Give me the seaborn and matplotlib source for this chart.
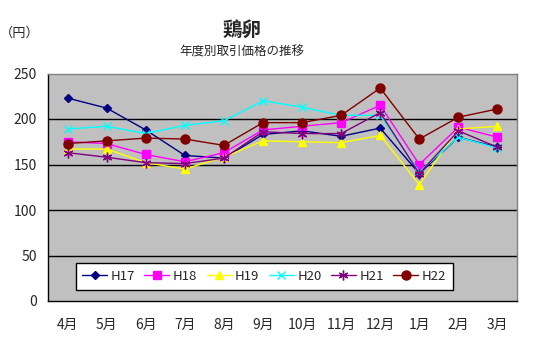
import matplotlib
matplotlib.use("Agg")
import matplotlib.pyplot as plt
import seaborn as sns
import pandas as pd
import numpy as np

months = ["4月", "5月", "6月", "7月", "8月", "9月", "10月", "11月", "12月", "1月", "2月", "3月"]
h17 = [223, 212, 188, 160, 157, 183, 187, 181, 190, 140, 180, 169]
h18 = [175, 173, 161, 153, 163, 188, 192, 196, 215, 150, 191, 180]
h19 = [167, 167, 152, 145, 158, 176, 175, 174, 182, 128, 189, 192]
h20 = [189, 192, 184, 193, 198, 220, 213, 204, 204, 142, 180, 168]
h21 = [163, 158, 152, 151, 157, 186, 184, 184, 207, 140, 187, 169]
h22 = [173, 176, 179, 178, 171, 196, 196, 204, 234, 178, 202, 211]

series = {"H17": h17, "H18": h18, "H19": h19, "H20": h20, "H21": h21, "H22": h22}
colors = {"H17": "#000080", "H18": "#FF00FF", "H19": "#FFFF00",
          "H20": "#00FFFF", "H21": "#800080", "H22": "#800000"}
markers = {"H17": "D", "H18": "s", "H19": "^", "H20": "x", "H21": (6, 2, 0), "H22": "o"}
msizes = {"H17": 4.5, "H18": 6, "H19": 6, "H20": 6, "H21": 7, "H22": 6.5}

rows = []
for name, vals in series.items():
    for i, v in enumerate(vals):
        rows.append({"month": i, "price": v, "year": name})
df = pd.DataFrame(rows)

sns.set_theme(style="white")
plt.rcParams["font.family"] = ["Noto Sans CJK JP", "DejaVu Sans"]

fig = plt.figure(figsize=(5.5, 3.5), dpi=100)
ax = fig.add_axes([48 / 550, 1 - 301 / 350, (517 - 48) / 550, (301 - 73.5) / 350])
ax.set_facecolor("#C0C0C0")

for name in series:
    sub = df[df["year"] == name]
    sns.lineplot(data=sub, x="month", y="price", ax=ax, color=colors[name],
                 marker=markers[name], markersize=msizes[name],
                 markeredgecolor=colors[name], markeredgewidth=1.0,
                 linewidth=1.0, label=name, legend=False)

ax.set_xlim(-0.5, 11.5)
ax.set_ylim(0, 250)
ax.set_yticks(np.arange(0, 251, 50))
for yv in [50, 100, 150, 200]:
    ax.axhline(yv, color="black", linewidth=1, zorder=0.5)

ax.set_xticks(range(12))
ax.set_xticklabels(months, fontsize=10)
ax.set_xticks(np.arange(0.5, 11.5, 1), minor=True)
ax.tick_params(axis="x", which="major", length=0, pad=12)
ax.tick_params(axis="x", which="minor", direction="in", length=4, color="black", width=1)
ax.tick_params(axis="y", length=0, labelsize=10, pad=8)
ax.set_xlabel("")
ax.set_ylabel("")

for side in ["left", "bottom"]:
    ax.spines[side].set_color("black")
    ax.spines[side].set_linewidth(1)
for side in ["top", "right"]:
    ax.spines[side].set_color("#808080")
    ax.spines[side].set_linewidth(1)

handles, labels = ax.get_legend_handles_labels()
leg = ax.legend(handles, labels, ncol=6, loc="center",
                bbox_to_anchor=(0.4606, 0.108),
                frameon=True, fancybox=False, fontsize=9.5,
                handlelength=1.9, handletextpad=0.25, columnspacing=0.72,
                borderpad=0.5, borderaxespad=0)
leg.get_frame().set_edgecolor("black")
leg.get_frame().set_facecolor("white")
leg.get_frame().set_linewidth(1)
leg.get_frame().set_alpha(1)

fig.text(242 / 550, 1 - 30 / 350, "鶏卵", ha="center", va="center",
         fontsize=14, fontweight="bold")
fig.text(242 / 550, 1 - 52 / 350, "年度別取引価格の推移", ha="center", va="center",
         fontsize=9)
fig.text(20 / 550, 1 - 33 / 350, "（円）", ha="center", va="center", fontsize=9.5)

fig.savefig("out.png", dpi=100, facecolor="white")
